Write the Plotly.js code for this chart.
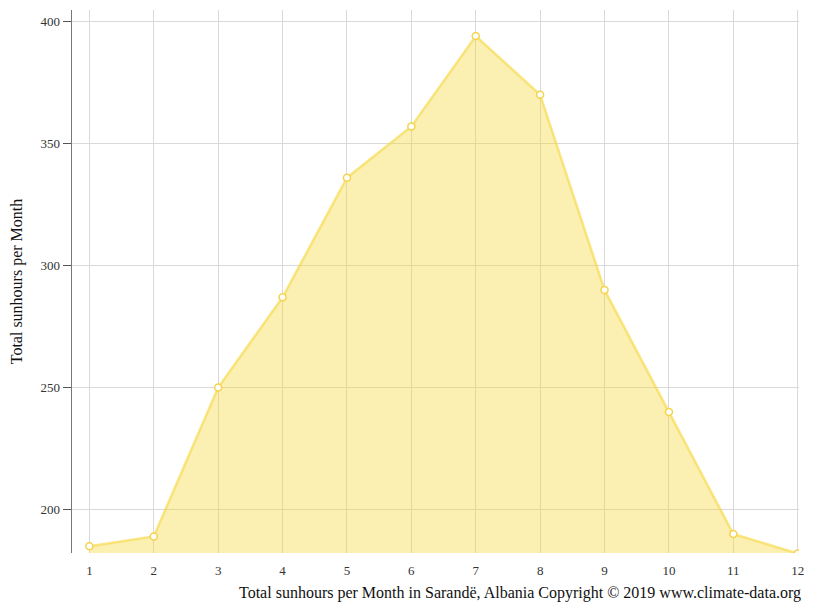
<!DOCTYPE html>
<html>
<head>
<meta charset="utf-8">
<script src="https://cdn.plot.ly/plotly-3.0.1.min.js"></script>
<style>
  html, body { margin: 0; padding: 0; background: #fff; }
  #chart { width: 815px; height: 611px; }
</style>
</head>
<body>
<div id="chart"></div>
<script>
// months and sunshine hours
var months = [1, 2, 3, 4, 5, 6, 7, 8, 9, 10, 11, 12];
var sunhours = [185, 189, 250, 287, 336, 357, 394, 370, 290, 240, 190, 182];
var yTicks = [200, 250, 300, 350, 400];

var serif = '"Liberation Serif", "Times New Roman", serif';

var trace = {
    x: months,
    y: sunhours,
    type: 'scatter',
    mode: 'lines+markers',
    fill: 'tozeroy',
    fillcolor: 'rgba(245,215,60,0.4)',
    line: { color: 'rgba(245,215,60,0.6)', width: 2.5 },
    marker: { size: 7, color: '#ffffff', line: { color: '#f5d34a', width: 1.5 } },
    hoverinfo: 'x+y'
};

var layout = {
    width: 815,
    height: 611,
    margin: { l: 72, r: 16, t: 10, b: 58 },
    paper_bgcolor: '#fff',
    plot_bgcolor: '#fff',
    showlegend: false,
    font: { family: serif, size: 13, color: '#333' },
    xaxis: {
        range: [0.73, 12.02],
        tickvals: months,
        ticktext: months.map(String),
        showgrid: true,
        gridcolor: '#d9d9d9',
        zeroline: false,
        showline: false,
        ticks: '',
        ticklen: 0,
        ticklabelstandoff: 8,
        tickfont: { family: serif, size: 13, color: '#333' }
    },
    yaxis: {
        range: [182.2, 404.7],
        tickvals: yTicks,
        showgrid: true,
        gridcolor: '#d9d9d9',
        zeroline: false,
        showline: true,
        linecolor: '#777',
        linewidth: 1.5,
        ticks: 'outside',
        ticklen: 8,
        tickcolor: '#555',
        tickfont: { family: serif, size: 13, color: '#333' },
        title: { text: 'Total sunhours per Month', font: { family: serif, size: 16, color: '#111' }, standoff: 14 }
    },
    annotations: [{
        text: 'Total sunhours per Month in Sarandë, Albania Copyright © 2019 www.climate-data.org',
        xref: 'paper', yref: 'paper',
        x: 1.005, y: 0, xanchor: 'right', yanchor: 'top',
        yshift: -29,
        showarrow: false,
        font: { family: serif, size: 16, color: '#111' }
    }]
};

Plotly.newPlot('chart', [trace], layout, { displayModeBar: false, staticPlot: true });
</script>
</body>
</html>
